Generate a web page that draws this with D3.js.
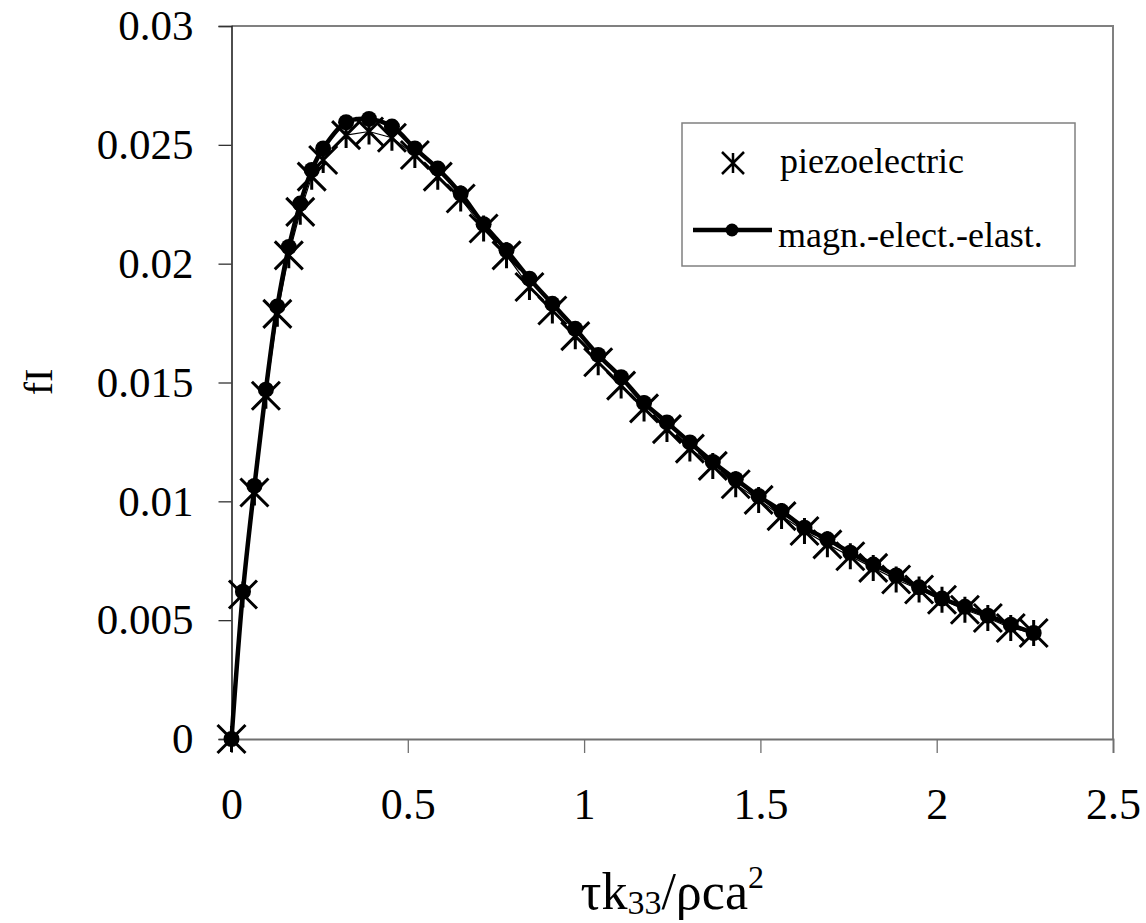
<!DOCTYPE html>
<html>
<head>
<meta charset="utf-8">
<script src="https://cdn.jsdelivr.net/npm/d3@7"></script>
<style>
  html, body { margin: 0; padding: 0; background: #fff; }
  svg { display: block; font-family: "Liberation Serif", "Times New Roman", serif; }
</style>
</head>
<body>
<svg id="chart" width="1146" height="923"></svg>
<script>
// ---- data ----
const xValues = [0, 0.0325, 0.065, 0.0975, 0.13, 0.1625, 0.195, 0.2275, 0.26,
  0.325, 0.39, 0.455, 0.52, 0.585, 0.65, 0.715, 0.78, 0.845, 0.91, 0.975,
  1.04, 1.105, 1.17, 1.235, 1.3, 1.365, 1.43, 1.495, 1.56, 1.625,
  1.69, 1.755, 1.82, 1.885, 1.95, 2.015, 2.08, 2.145, 2.21, 2.275];

const piezoValues = [0, 0.00608, 0.01037, 0.01444, 0.01789, 0.02035, 0.02218, 0.02366, 0.02436,
  0.02541, 0.02556, 0.0253, 0.02457, 0.02366, 0.02274, 0.02148, 0.02035, 0.01902, 0.01803, 0.01695,
  0.01585, 0.01487, 0.01391, 0.01304, 0.01222, 0.01149, 0.01072, 0.01006, 0.00938, 0.00875,
  0.00819, 0.00769, 0.0072, 0.00671, 0.00629, 0.00586, 0.00544, 0.00509, 0.00467, 0.00446];

const magnetoValues = [0, 0.0062, 0.01065, 0.0147, 0.0182, 0.0207, 0.02253, 0.02394, 0.02485,
  0.02595, 0.02609, 0.02577, 0.02485, 0.0240, 0.02295, 0.02166, 0.02056, 0.01937, 0.01831, 0.01726,
  0.01616, 0.01522, 0.01414, 0.01332, 0.01248, 0.01166, 0.01093, 0.01022, 0.00959, 0.00889,
  0.0084, 0.00784, 0.00734, 0.00688, 0.00638, 0.00591, 0.00556, 0.00519, 0.00481, 0.00446];

const xTicks = [0, 0.5, 1, 1.5, 2, 2.5];
const xTickLabels = ["0", "0.5", "1", "1.5", "2", "2.5"];
const yTicks = [0, 0.005, 0.01, 0.015, 0.02, 0.025, 0.03];
const yTickLabels = ["0", "0.005", "0.01", "0.015", "0.02", "0.025", "0.03"];
const seriesNames = ["piezoelectric", "magn.-elect.-elast."];

// ---- layout ----
const svg = d3.select("#chart");
const plot = { left: 231.5, right: 1113, top: 26, bottom: 739 };

const x = d3.scaleLinear().domain([0, 2.5]).range([plot.left, plot.right]);
const y = d3.scaleLinear().domain([0, 0.03]).range([plot.bottom, plot.top]);

// plot frame (top & right gray)
svg.append("path")
  .attr("d", `M${plot.left},${plot.top}H${plot.right}V${plot.bottom}`)
  .attr("fill", "none").attr("stroke", "#808080").attr("stroke-width", 2);

// y axis
const yAxis = d3.axisLeft(y).tickValues(yTicks)
  .tickFormat((d, i) => yTickLabels[i]).tickSize(13).tickPadding(25);
const gy = svg.append("g").attr("transform", `translate(${plot.left},0)`).call(yAxis);
gy.select(".domain").attr("stroke", "#222").attr("stroke-width", 1.6);
gy.selectAll(".tick line").attr("stroke", "#333").attr("stroke-width", 1.3);
gy.selectAll(".tick text").attr("font-size", 43).attr("font-family", "Liberation Serif").attr("fill", "#000");

// x axis
const xAxis = d3.axisBottom(x).tickValues(xTicks)
  .tickFormat((d, i) => xTickLabels[i]).tickSize(14).tickPadding(35);
const gx = svg.append("g").attr("transform", `translate(0,${plot.bottom})`).call(xAxis);
gx.select(".domain").attr("stroke", "#707070").attr("stroke-width", 1.8);
gx.selectAll(".tick line").attr("stroke", "#707070").attr("stroke-width", 1.3);
gx.selectAll(".tick text").attr("font-size", 44).attr("font-family", "Liberation Serif").attr("fill", "#000");

// axis titles
const xt = svg.append("text")
  .attr("x", (plot.left + plot.right) / 2).attr("y", 909)
  .attr("text-anchor", "middle").attr("font-size", 52).attr("fill", "#000");
xt.append("tspan").text("τk");
xt.append("tspan").attr("font-size", 34).attr("dy", 5).text("33");
xt.append("tspan").attr("dy", -5).text("/ρca");
xt.append("tspan").attr("font-size", 32).attr("dy", -21).text("2");

svg.append("text")
  .attr("transform", "translate(51.5,382) rotate(-90)")
  .attr("text-anchor", "middle").attr("font-size", 40).attr("fill", "#000")
  .text("fI");

// ---- series ----
const piezo = xValues.map((v, i) => [v, piezoValues[i]]);
const magneto = xValues.map((v, i) => [v, magnetoValues[i]]);

function asterisk(g, cx, cy, h, v, sw) {
  g.append("path")
    .attr("d", `M${cx - h},${cy - h}L${cx + h},${cy + h}M${cx - h},${cy + h}L${cx + h},${cy - h}M${cx},${cy - v}L${cx},${cy + v}`)
    .attr("stroke", "#000").attr("stroke-width", sw).attr("fill", "none");
}

// thin line through piezoelectric points
svg.append("path")
  .datum(piezo)
  .attr("d", d3.line().x(d => x(d[0])).y(d => y(d[1])))
  .attr("fill", "none").attr("stroke", "#000").attr("stroke-width", 1.2);

const gp = svg.append("g");
piezo.forEach(d => asterisk(gp, x(d[0]), y(d[1]), 14, 13, 3));

// magneto thick smooth line + circles
svg.append("path")
  .datum(magneto)
  .attr("d", d3.line().curve(d3.curveCatmullRom.alpha(0.5)).x(d => x(d[0])).y(d => y(d[1])))
  .attr("fill", "none").attr("stroke", "#000").attr("stroke-width", 4.5).attr("stroke-linejoin", "round");

svg.append("g").selectAll("circle").data(magneto).join("circle")
  .attr("cx", d => x(d[0])).attr("cy", d => y(d[1])).attr("r", 8).attr("fill", "#000");

// ---- legend ----
const lg = svg.append("g");
lg.append("rect").attr("x", 682).attr("y", 123).attr("width", 393).attr("height", 143)
  .attr("fill", "#fff").attr("stroke", "#808080").attr("stroke-width", 1.5);
asterisk(lg, 733, 163, 11, 10, 2.5);
lg.append("text").attr("x", 780).attr("y", 173).attr("font-size", 36).attr("fill", "#000").text(seriesNames[0]);
lg.append("line").attr("x1", 693).attr("x2", 772).attr("y1", 230).attr("y2", 230)
  .attr("stroke", "#000").attr("stroke-width", 4.5);
lg.append("circle").attr("cx", 732).attr("cy", 230).attr("r", 6.5).attr("fill", "#000");
lg.append("text").attr("x", 778).attr("y", 247).attr("font-size", 36).attr("fill", "#000").text(seriesNames[1]);
</script>
</body>
</html>
